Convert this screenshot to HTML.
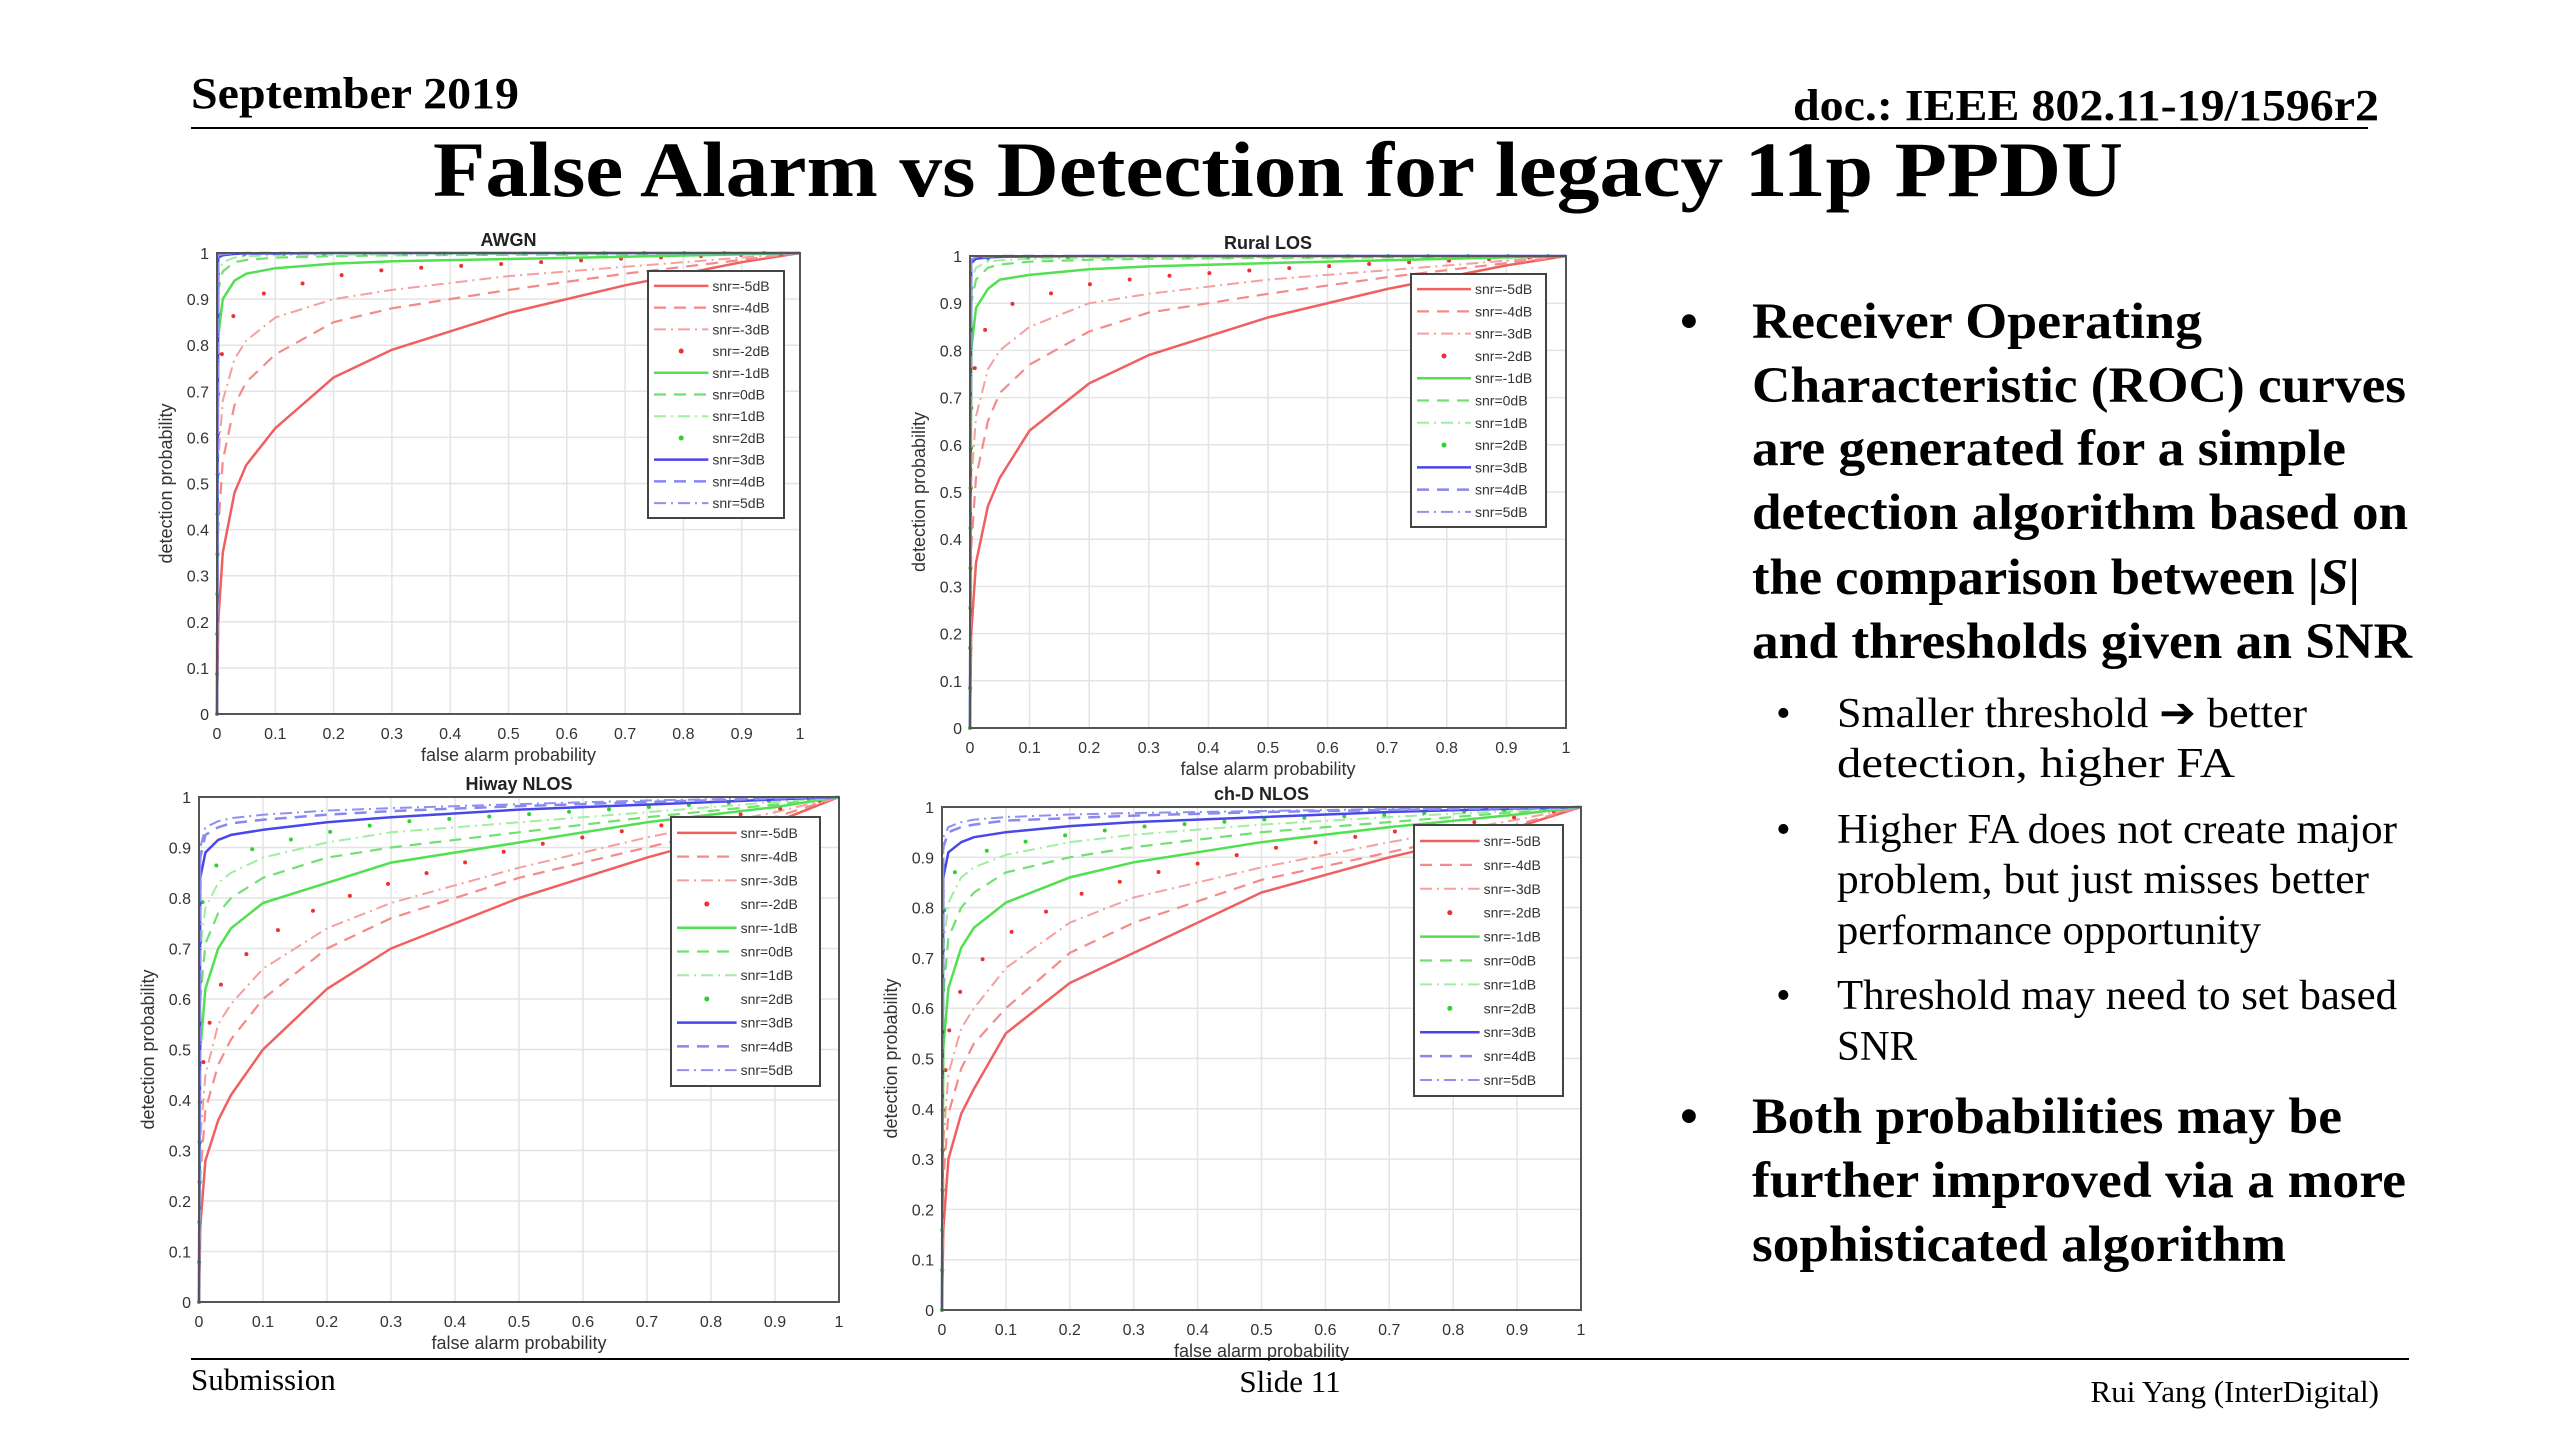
<!DOCTYPE html>
<html><head><meta charset="utf-8"><style>
html,body{margin:0;padding:0;background:#fff;}
svg{display:block;}
</style></head><body>
<svg id="slide" xmlns="http://www.w3.org/2000/svg" width="2560" height="1440" viewBox="0 0 2560 1440">
<rect width="2560" height="1440" fill="#fff"/>
<g font-family="Liberation Serif, serif" font-weight="bold" fill="#000">
<text x="191" y="108" font-size="44" textLength="328" lengthAdjust="spacingAndGlyphs">September 2019</text>
<text x="1793" y="120" font-size="44" textLength="586" lengthAdjust="spacingAndGlyphs">doc.: IEEE 802.11-19/1596r2</text>
<line x1="191" y1="128" x2="2368" y2="128" stroke="#000" stroke-width="2"/>
<text x="433" y="196" font-size="78" textLength="1690" lengthAdjust="spacingAndGlyphs">False Alarm vs Detection for legacy 11p PPDU</text>
</g>
<g id="charts"></g>
<g font-family="Liberation Serif, serif" fill="#000">
<g font-weight="bold" font-size="51">
<text x="1680" y="338">•</text>
<text x="1752" y="338" textLength="450" lengthAdjust="spacingAndGlyphs">Receiver Operating</text>
<text x="1752" y="402" textLength="654" lengthAdjust="spacingAndGlyphs">Characteristic (ROC) curves</text>
<text x="1752" y="465" textLength="594" lengthAdjust="spacingAndGlyphs">are generated for a simple</text>
<text x="1752" y="529" textLength="656" lengthAdjust="spacingAndGlyphs">detection algorithm based on</text>
<text x="1752" y="594" textLength="608" lengthAdjust="spacingAndGlyphs">the comparison between |<tspan font-style="italic">S</tspan>|</text>
<text x="1752" y="658" textLength="660" lengthAdjust="spacingAndGlyphs">and thresholds given an SNR</text>
<text x="1680" y="1133">•</text>
<text x="1752" y="1133" textLength="590" lengthAdjust="spacingAndGlyphs">Both probabilities may be</text>
<text x="1752" y="1197" textLength="654" lengthAdjust="spacingAndGlyphs">further improved via a more</text>
<text x="1752" y="1261" textLength="534" lengthAdjust="spacingAndGlyphs">sophisticated algorithm</text>
</g>
<g font-size="42">
<text x="1776" y="727">•</text>
<text x="1837" y="727" textLength="470" lengthAdjust="spacingAndGlyphs">Smaller threshold ➔ better</text>
<text x="1837" y="777" textLength="398" lengthAdjust="spacingAndGlyphs">detection, higher FA</text>
<text x="1776" y="843">•</text>
<text x="1837" y="843" textLength="560" lengthAdjust="spacingAndGlyphs">Higher FA does not create major</text>
<text x="1837" y="893" textLength="532" lengthAdjust="spacingAndGlyphs">problem, but just misses better</text>
<text x="1837" y="944" textLength="424" lengthAdjust="spacingAndGlyphs">performance opportunity</text>
<text x="1776" y="1009">•</text>
<text x="1837" y="1009" textLength="560" lengthAdjust="spacingAndGlyphs">Threshold may need to set based</text>
<text x="1837" y="1060" textLength="80" lengthAdjust="spacingAndGlyphs">SNR</text>
</g>
</g>
<g font-family="Liberation Serif, serif" fill="#000">
<line x1="191" y1="1359" x2="2409" y2="1359" stroke="#000" stroke-width="2"/>
<text x="191" y="1390" font-size="31">Submission</text>
<text x="1290" y="1392" font-size="31" text-anchor="middle">Slide 11</text>
<text x="2379" y="1402" font-size="31" text-anchor="end">Rui Yang (InterDigital)</text>
</g>
</svg>
<script>
const xSamples = [0, 0.002, 0.01, 0.03, 0.05, 0.1, 0.2, 0.3, 0.5, 0.7, 0.9, 1];
const tickLabels = ["0","0.1","0.2","0.3","0.4","0.5","0.6","0.7","0.8","0.9","1"];
const snrLabels = ["snr=-5dB","snr=-4dB","snr=-3dB","snr=-2dB","snr=-1dB","snr=0dB","snr=1dB","snr=2dB","snr=3dB","snr=4dB","snr=5dB"];
const awgnSeries = [
 [0,0.2,0.35,0.48,0.54,0.62,0.73,0.79,0.87,0.93,0.98,1],
 [0,0.4,0.55,0.67,0.72,0.78,0.85,0.88,0.92,0.955,0.985,1],
 [0,0.55,0.68,0.77,0.81,0.86,0.9,0.92,0.95,0.97,0.99,1],
 [0,0.7,0.8,0.87,0.9,0.92,0.95,0.965,0.977,0.988,0.996,1],
 [0,0.82,0.9,0.94,0.955,0.967,0.977,0.982,0.987,0.992,0.997,1],
 [0,0.92,0.96,0.98,0.985,0.99,0.993,0.995,0.996,0.997,0.999,1],
 [0,0.96,0.98,0.99,0.993,0.995,0.996,0.997,0.998,0.999,1,1],
 [0,0.98,0.99,0.995,0.997,0.998,0.998,0.999,0.999,1,1,1],
 [0,0.99,0.995,0.998,0.999,0.999,1,1,1,1,1,1],
 [0,0.995,0.998,0.999,1,1,1,1,1,1,1,1],
 [0,0.997,0.999,1,1,1,1,1,1,1,1,1]
];
const ruralSeries = [
 [0,0.2,0.35,0.47,0.53,0.63,0.73,0.79,0.87,0.93,0.98,1],
 [0,0.38,0.53,0.65,0.71,0.77,0.84,0.88,0.92,0.955,0.985,1],
 [0,0.52,0.66,0.76,0.8,0.85,0.9,0.92,0.95,0.97,0.99,1],
 [0,0.68,0.79,0.86,0.89,0.91,0.94,0.955,0.972,0.985,0.995,1],
 [0,0.8,0.89,0.93,0.95,0.96,0.972,0.978,0.985,0.991,0.997,1],
 [0,0.9,0.95,0.975,0.982,0.988,0.992,0.994,0.996,0.997,0.999,1],
 [0,0.95,0.975,0.988,0.991,0.994,0.996,0.997,0.998,0.999,1,1],
 [0,0.97,0.988,0.994,0.996,0.997,0.998,0.999,0.999,1,1,1],
 [0,0.985,0.994,0.997,0.998,0.999,1,1,1,1,1,1],
 [0,0.992,0.997,0.999,1,1,1,1,1,1,1,1],
 [0,0.995,0.998,1,1,1,1,1,1,1,1,1]
];
const hiwaySeries = [
 [0,0.15,0.28,0.36,0.41,0.5,0.62,0.7,0.8,0.88,0.95,1],
 [0,0.25,0.38,0.47,0.52,0.6,0.7,0.76,0.84,0.9,0.96,1],
 [0,0.32,0.45,0.55,0.59,0.66,0.74,0.79,0.86,0.92,0.97,1],
 [0,0.4,0.52,0.62,0.66,0.72,0.79,0.83,0.9,0.94,0.975,1],
 [0,0.5,0.62,0.7,0.74,0.79,0.83,0.87,0.91,0.95,0.98,1],
 [0,0.6,0.71,0.77,0.8,0.84,0.88,0.9,0.93,0.96,0.985,1],
 [0,0.7,0.78,0.83,0.85,0.88,0.91,0.93,0.95,0.97,0.99,1],
 [0,0.76,0.83,0.87,0.88,0.905,0.93,0.95,0.965,0.98,0.993,1],
 [0,0.84,0.89,0.915,0.925,0.935,0.95,0.96,0.975,0.985,0.995,1],
 [0,0.88,0.925,0.94,0.948,0.955,0.965,0.972,0.982,0.99,0.997,1],
 [0,0.9,0.94,0.952,0.958,0.965,0.973,0.978,0.986,0.993,0.998,1]
];
const chdSeries = [
 [0,0.16,0.3,0.39,0.44,0.55,0.65,0.71,0.83,0.9,0.96,1],
 [0,0.26,0.39,0.48,0.53,0.6,0.71,0.77,0.855,0.91,0.965,1],
 [0,0.33,0.47,0.56,0.6,0.68,0.77,0.82,0.88,0.93,0.975,1],
 [0,0.42,0.55,0.64,0.68,0.745,0.82,0.86,0.915,0.95,0.98,1],
 [0,0.52,0.64,0.72,0.76,0.81,0.86,0.89,0.93,0.96,0.985,1],
 [0,0.63,0.74,0.8,0.83,0.87,0.9,0.92,0.95,0.97,0.99,1],
 [0,0.72,0.81,0.86,0.88,0.905,0.93,0.945,0.965,0.98,0.993,1],
 [0,0.78,0.85,0.89,0.905,0.925,0.945,0.96,0.975,0.985,0.995,1],
 [0,0.86,0.91,0.93,0.94,0.95,0.962,0.97,0.98,0.99,0.997,1],
 [0,0.92,0.95,0.96,0.965,0.973,0.978,0.983,0.99,0.994,0.998,1],
 [0,0.94,0.96,0.97,0.975,0.98,0.985,0.988,0.992,0.996,0.999,1]
];

const NS = "http://www.w3.org/2000/svg";
const styles = [
 {c:"#f06060",d:"",w:2.5},{c:"#f58a8a",d:"12 8",w:2.2},{c:"#f5a0a0",d:"12 5 2 5",w:2},{c:"#ee3030",d:"dots",w:4},
 {c:"#50e050",d:"",w:2.5},{c:"#70e070",d:"12 8",w:2.2},{c:"#a0eea0",d:"12 5 2 5",w:2},{c:"#30d030",d:"dots",w:4},
 {c:"#4848e8",d:"",w:2.5},{c:"#8888f0",d:"12 8",w:2.5},{c:"#9090f0",d:"12 5 2 5",w:2}
];
function mk(tag, attrs, parent){const e=document.createElementNS(NS,tag);for(const k in attrs)e.setAttribute(k,attrs[k]);parent.appendChild(e);return e;}

function drawChart(name, title, series, L, R, T, B, leg){
 const root=document.getElementById('charts');
 const g=mk('g',{},root);
 
 
 const sx=v=>L+v*(R-L), sy=v=>B-v*(B-T);
 mk('rect',{x:L,y:T,width:R-L,height:B-T,fill:'#fff'},g);
 for(let i=0;i<tickLabels.length;i++){
  const v=i/(tickLabels.length-1);
  const gx=mk('line',{x1:sx(v),x2:sx(v),y1:T,y2:B,stroke:'#e4e4e4','stroke-width':1.5},g);
  
  
  mk('line',{x1:L,x2:R,y1:sy(v),y2:sy(v),stroke:'#e4e4e4','stroke-width':1.5},g);
  const tx=mk('text',{x:sx(v),y:B+25,'font-size':16,'text-anchor':'middle',fill:'#333','font-family':'Liberation Sans, sans-serif'},g);
  tx.textContent=tickLabels[i];
  
  
  const ty=mk('text',{x:L-8,y:sy(v)+6,'font-size':16,'text-anchor':'end',fill:'#333','font-family':'Liberation Sans, sans-serif'},g);
  ty.textContent=tickLabels[i];
  
  
 }
 series.forEach((ys,si)=>{
  const st=styles[si];
  const pts=ys.map((y,i)=>sx(xSamples[i]).toFixed(1)+','+sy(y).toFixed(1)).join(' ');
  const a={points:pts,fill:'none',stroke:st.c,'stroke-width':st.w,'stroke-linejoin':'round'};
  if(st.d==='dots'){a['stroke-dasharray']='0 40';a['stroke-linecap']='round';}
  else if(st.d) a['stroke-dasharray']=st.d;
  const p=mk('polyline',a,g);
  
  
 });
 mk('rect',{x:L,y:T,width:R-L,height:B-T,fill:'none',stroke:'#555','stroke-width':2},g);
 const t=mk('text',{x:(L+R)/2,y:T-7,'font-size':18,'font-weight':'bold','text-anchor':'middle',fill:'#222','font-family':'Liberation Sans, sans-serif'},g);
 t.textContent=title;
 
 
 const xl=mk('text',{x:(L+R)/2,y:B+47,'font-size':18,'text-anchor':'middle',fill:'#333','font-family':'Liberation Sans, sans-serif'},g);
 xl.textContent='false alarm probability';
 
 
 const yl=mk('text',{x:0,y:0,'font-size':18,'text-anchor':'middle',fill:'#333','font-family':'Liberation Sans, sans-serif',transform:`translate(${L-45},${(T+B)/2}) rotate(-90)`},g);
 yl.textContent='detection probability';
 
 
 const lg=mk('g',{},g);
 
 
 mk('rect',{x:leg[0],y:leg[1],width:leg[2]-leg[0],height:leg[3]-leg[1],fill:'#fff',stroke:'#444','stroke-width':2},lg);
 const rh=(leg[3]-leg[1]-8)/snrLabels.length;
 const sw=(leg[2]-leg[0])*0.4;
 snrLabels.forEach((lab,i)=>{
  const y=leg[1]+4+rh*(i+0.5);
  const st=styles[i];
  const e=mk('g',{},lg);
  
  
  if(st.d==='dots') mk('circle',{cx:leg[0]+6+sw/2,cy:y,r:2.5,fill:st.c},e);
  else { const a={x1:leg[0]+6,x2:leg[0]+6+sw,y1:y,y2:y,stroke:st.c,'stroke-width':st.w}; if(st.d)a['stroke-dasharray']=st.d; mk('line',a,e); }
  const tt=mk('text',{x:leg[0]+sw+10,y:y+5,'font-size':14,fill:'#333','font-family':'Liberation Sans, sans-serif'},e);
  tt.textContent=lab;
 });
}
drawChart('awgn','AWGN',awgnSeries,217,800,253,714,[648,271,784,518]);
drawChart('rural-los','Rural LOS',ruralSeries,970,1566,256,728,[1411,274,1546,527]);
drawChart('hiway-nlos','Hiway NLOS',hiwaySeries,199,839,797,1302,[671,817,820,1086]);
drawChart('ch-d-nlos','ch-D NLOS',chdSeries,942,1581,807,1310,[1414,825,1563,1096]);
</script>
</body></html>
